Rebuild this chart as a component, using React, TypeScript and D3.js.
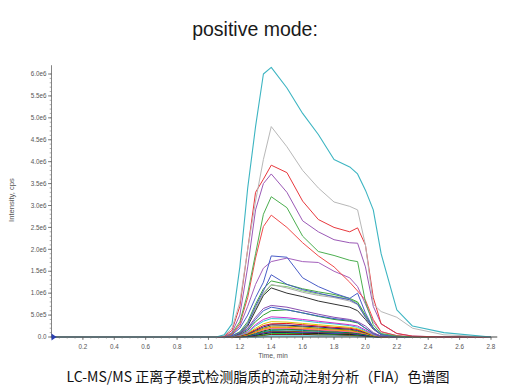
import React from "react";
import * as d3 from "d3";

// Retention time grid (min)
const times = [0, 1.0, 1.05, 1.1, 1.15, 1.2, 1.25, 1.3, 1.35, 1.4, 1.5, 1.6, 1.7, 1.8, 1.9, 1.95, 2.0, 2.05, 2.1, 2.2, 2.3, 2.5, 2.8];

// Intensities in millions of cps, one array per trace
const traceCyan = [0, 0, 0, 0.05, 0.3, 1.6, 3.4, 4.8, 6.0, 6.15, 5.68, 5.1, 4.62, 4.05, 3.88, 3.72, 3.35, 2.9, 1.9, 0.62, 0.25, 0.1, 0];
const traceGray = [0, 0, 0, 0.03, 0.2, 0.8, 2.0, 3.1, 4.05, 4.8, 4.34, 3.8, 3.4, 3.08, 2.98, 2.9, 2.1, 0.75, 0.58, 0.45, 0.2, 0.05, 0];
const traceRed1 = [0, 0, 0, 0.02, 0.15, 0.7, 2.0, 3.3, 3.6, 3.92, 3.75, 3.1, 2.68, 2.5, 2.4, 2.49, 2.1, 0.9, 0.3, 0.08, 0.02, 0, 0];
const tracePurple1 = [0, 0, 0, 0.01, 0.1, 0.5, 1.6, 2.9, 3.5, 3.72, 3.3, 2.65, 2.4, 2.22, 2.15, 2.14, 1.6, 0.7, 0.3, 0.08, 0.02, 0, 0];
const traceGreen1 = [0, 0, 0, 0.01, 0.08, 0.35, 1.0, 1.9, 2.8, 3.2, 2.95, 2.3, 1.95, 1.86, 1.75, 1.72, 0.8, 0.28, 0.08, 0.02, 0, 0, 0];
const traceRed2 = [0, 0, 0, 0.01, 0.06, 0.3, 0.9, 1.8, 2.52, 2.78, 2.5, 2.15, 1.85, 1.6, 1.25, 1.05, 0.84, 0.4, 0.12, 0.03, 0, 0, 0];
const traceBlue1 = [0, 0, 0, 0.01, 0.05, 0.2, 0.5, 0.9, 1.25, 1.85, 1.82, 1.35, 1.15, 1.0, 0.88, 1.0, 0.55, 0.2, 0.06, 0.01, 0, 0, 0];
const tracePurple2 = [0, 0, 0, 0.01, 0.05, 0.25, 0.7, 1.2, 1.57, 1.72, 1.8, 1.72, 1.7, 1.5, 1.35, 1.15, 0.75, 0.35, 0.12, 0.03, 0, 0, 0];
const traceBlue2 = [0, 0, 0, 0, 0.03, 0.1, 0.3, 0.7, 1.05, 1.42, 1.2, 1.08, 1.0, 0.92, 0.85, 0.75, 0.45, 0.2, 0.05, 0.01, 0, 0, 0];
const traceGreen2 = [0, 0, 0, 0, 0.03, 0.12, 0.35, 0.75, 1.1, 1.28, 1.2, 1.1, 1.03, 0.97, 0.88, 0.8, 0.5, 0.22, 0.06, 0.01, 0, 0, 0];
const traceLightGray = [0, 0, 0, 0, 0.02, 0.1, 0.3, 0.65, 1.0, 1.2, 1.12, 1.02, 0.95, 0.9, 0.82, 0.74, 0.45, 0.2, 0.05, 0, 0, 0, 0];
const traceBlack1 = [0, 0, 0, 0, 0.02, 0.08, 0.25, 0.6, 0.95, 1.12, 1.0, 0.92, 0.82, 0.75, 0.68, 0.6, 0.4, 0.18, 0.05, 0, 0, 0, 0];
const traceLightGreen = [0, 0, 0, 0, 0.02, 0.09, 0.28, 0.62, 0.98, 1.18, 1.15, 1.05, 0.98, 0.93, 0.86, 0.78, 0.48, 0.21, 0.05, 0, 0, 0, 0];
const tracePurple3 = [0, 0, 0, 0, 0.02, 0.08, 0.2, 0.45, 0.65, 0.72, 0.68, 0.6, 0.52, 0.45, 0.4, 0.35, 0.25, 0.1, 0.02, 0, 0, 0, 0];
const traceBlue3 = [0, 0, 0, 0, 0.02, 0.07, 0.18, 0.4, 0.6, 0.68, 0.62, 0.55, 0.48, 0.42, 0.38, 0.33, 0.2, 0.08, 0.02, 0, 0, 0, 0];
const traceGreen3 = [0, 0, 0, 0, 0.02, 0.06, 0.15, 0.35, 0.5, 0.6, 0.62, 0.55, 0.47, 0.4, 0.36, 0.32, 0.2, 0.08, 0.02, 0, 0, 0, 0];
const traceMagenta = [0, 0, 0, 0, 0.01, 0.05, 0.12, 0.28, 0.4, 0.46, 0.44, 0.4, 0.36, 0.32, 0.28, 0.25, 0.16, 0.06, 0.01, 0, 0, 0, 0];
const traceCyan2 = [0, 0, 0, 0, 0.01, 0.04, 0.1, 0.25, 0.36, 0.42, 0.41, 0.37, 0.33, 0.3, 0.26, 0.22, 0.14, 0.05, 0.01, 0, 0, 0, 0];
const traceYellow = [0, 0, 0, 0, 0.01, 0.04, 0.09, 0.2, 0.3, 0.35, 0.34, 0.31, 0.28, 0.25, 0.22, 0.19, 0.12, 0.04, 0.01, 0, 0, 0, 0];
const traceRed3 = [0, 0, 0, 0, 0.01, 0.03, 0.08, 0.17, 0.26, 0.3, 0.31, 0.28, 0.25, 0.22, 0.2, 0.17, 0.11, 0.04, 0.01, 0, 0, 0, 0];
const traceNavy = [0, 0, 0, 0, 0.01, 0.03, 0.07, 0.15, 0.23, 0.28, 0.27, 0.25, 0.23, 0.2, 0.18, 0.15, 0.1, 0.04, 0.01, 0, 0, 0, 0];
const traceOlive = [0, 0, 0, 0, 0.01, 0.03, 0.06, 0.13, 0.2, 0.25, 0.25, 0.23, 0.2, 0.18, 0.16, 0.13, 0.09, 0.03, 0.01, 0, 0, 0, 0];
const traceOrange = [0, 0, 0, 0, 0, 0.02, 0.05, 0.11, 0.18, 0.22, 0.22, 0.2, 0.18, 0.16, 0.14, 0.12, 0.08, 0.03, 0, 0, 0, 0, 0];
const tracePink = [0, 0, 0, 0, 0, 0.02, 0.05, 0.1, 0.16, 0.2, 0.2, 0.18, 0.16, 0.14, 0.12, 0.1, 0.07, 0.03, 0, 0, 0, 0, 0];
const traceDarkGreen = [0, 0, 0, 0, 0, 0.02, 0.04, 0.09, 0.14, 0.18, 0.18, 0.17, 0.15, 0.13, 0.11, 0.09, 0.06, 0.02, 0, 0, 0, 0, 0];
const traceTeal = [0, 0, 0, 0, 0, 0.01, 0.03, 0.07, 0.12, 0.15, 0.16, 0.15, 0.13, 0.11, 0.1, 0.08, 0.05, 0.02, 0, 0, 0, 0, 0];
const traceBrown = [0, 0, 0, 0, 0, 0.01, 0.03, 0.06, 0.1, 0.13, 0.13, 0.12, 0.11, 0.1, 0.08, 0.07, 0.05, 0.02, 0, 0, 0, 0, 0];
const traceBlue4 = [0, 0, 0, 0, 0, 0.01, 0.02, 0.05, 0.09, 0.12, 0.12, 0.11, 0.1, 0.09, 0.08, 0.06, 0.04, 0.01, 0, 0, 0, 0, 0];
const traceBlack2 = [0, 0, 0, 0, 0, 0.01, 0.02, 0.04, 0.07, 0.1, 0.1, 0.09, 0.08, 0.07, 0.06, 0.05, 0.03, 0.01, 0, 0, 0, 0, 0];
const traceLime = [0, 0, 0, 0, 0, 0.01, 0.02, 0.03, 0.05, 0.08, 0.08, 0.08, 0.07, 0.06, 0.05, 0.04, 0.03, 0.01, 0, 0, 0, 0, 0];
const traceMaroon = [0, 0, 0, 0, 0, 0, 0.01, 0.02, 0.04, 0.06, 0.06, 0.06, 0.05, 0.05, 0.04, 0.03, 0.02, 0.01, 0, 0, 0, 0, 0];
const traceCyanFlat = [0, 0, 0, 0, 0, 0, 0.01, 0.01, 0.02, 0.03, 0.03, 0.03, 0.03, 0.03, 0.03, 0.02, 0.02, 0.01, 0, 0, 0, 0, 0];

// Draw order: small first, large last
const traces = [
  traceCyanFlat, traceMaroon, traceLime, traceBlack2, traceBlue4, traceBrown, traceTeal, traceDarkGreen,
  tracePink, traceOrange, traceOlive, traceNavy, traceRed3, traceYellow, traceCyan2, traceMagenta,
  traceGreen3, traceBlue3, tracePurple3, traceLightGreen, traceBlack1, traceLightGray, traceGreen2, traceBlue2,
  tracePurple2, traceBlue1, traceRed2, traceGreen1, tracePurple1, traceRed1, traceGray, traceCyan,
];
const traceColors = [
  "#7fd6df", "#800000", "#32cd32", "#111111", "#1a1aff", "#8b4513", "#008b8b", "#006400",
  "#ff5fa8", "#ff8c00", "#8b8b00", "#1c1c80", "#e01818", "#e0c800", "#35c4d4", "#cc33cc",
  "#2f9e2f", "#4060c8", "#8a4fb0", "#86cf74", "#333333", "#aaaaaa", "#42a842", "#4a5cc4",
  "#a460bc", "#4a5ec8", "#f04a4a", "#4caf50", "#9b59b6", "#e8383d", "#b8b8b8", "#3db5c2",
];
const traceWidths = [
  2.2, 1, 1, 1, 1, 1, 1, 1,
  1, 1, 1, 1, 1, 1, 1, 1,
  1, 1, 1, 1, 1, 1, 1, 1,
  1, 1, 1, 1, 1, 1, 1, 1.1,
];

const xTicks = [0.2, 0.4, 0.6, 0.8, 1.0, 1.2, 1.4, 1.6, 1.8, 2.0, 2.2, 2.4, 2.6, 2.8];
const xTickLabels = ["0.2", "0.4", "0.6", "0.8", "1.0", "1.2", "1.4", "1.6", "1.8", "2.0", "2.2", "2.4", "2.6", "2.8"];
const yTicks = [0, 0.5, 1.0, 1.5, 2.0, 2.5, 3.0, 3.5, 4.0, 4.5, 5.0, 5.5, 6.0];
const yTickLabels = ["0.0", "5.0e5", "1.0e6", "1.5e6", "2.0e6", "2.5e6", "3.0e6", "3.5e6", "4.0e6", "4.5e6", "5.0e6", "5.5e6", "6.0e6"];

const W = 515;
const H = 388;
const FONT = "'Liberation Sans', Arial, sans-serif";

export default function App() {
  const x = d3.scaleLinear().domain([0, 2.8]).range([51.5, 491]);
  const y = d3.scaleLinear().domain([0, 6.0]).range([337, 74]);
  const line = d3
    .line<number>()
    .x((_, i) => x(times[i]))
    .y((v) => y(v));

  const yMinor = d3.range(0, 61).map((k) => k / 10);
  const xMinor = d3.range(0, 57).map((k) => k * 0.05);

  return (
    <svg
      width={W}
      height={H}
      style={{ position: "absolute", left: 0, top: 0, background: "#fff" }}
      fontFamily={FONT}
    >
      <rect x={0} y={0} width={W} height={H} fill="#fff" />
      <text x={255} y={36} textAnchor="middle" fontSize={19.5} fill="#1a1a1a">
        positive mode:
      </text>

      {/* traces */}
      <g fill="none" strokeLinejoin="round">
        {traces.map((tr, i) => (
          <path key={i} d={line(tr) || ""} stroke={traceColors[i]} strokeWidth={traceWidths[i]} />
        ))}
      </g>

      {/* y axis */}
      <line x1={x(0)} x2={x(0)} y1={y(6.2)} y2={y(0)} stroke="#666" strokeWidth={0.8} />
      {yMinor.map((v, i) => (
        <line key={"ym" + i} x1={x(0) - 1.8} x2={x(0)} y1={y(v)} y2={y(v)} stroke="#777" strokeWidth={0.6} />
      ))}
      {yTicks.map((v, i) => (
        <g key={"yt" + i}>
          <line x1={x(0) - 3.5} x2={x(0)} y1={y(v)} y2={y(v)} stroke="#555" strokeWidth={0.7} />
          <text x={x(0) - 5} y={y(v) + 2.2} textAnchor="end" fontSize={6.3} fill="#555">
            {yTickLabels[i]}
          </text>
        </g>
      ))}
      <text
        transform={`translate(14,${200}) rotate(-90)`}
        textAnchor="middle"
        fontSize={7.6}
        fill="#555"
      >
        Intensity, cps
      </text>

      {/* x axis */}
      <line x1={x(0)} x2={x(2.84)} y1={y(0)} y2={y(0)} stroke="#444" strokeWidth={1} />
      {xMinor.map((v, i) => (
        <line key={"xm" + i} x1={x(v)} x2={x(v)} y1={y(0)} y2={y(0) + 1.6} stroke="#777" strokeWidth={0.6} />
      ))}
      {xTicks.map((v, i) => (
        <g key={"xt" + i}>
          <line x1={x(v)} x2={x(v)} y1={y(0)} y2={y(0) + 3} stroke="#555" strokeWidth={0.7} />
          <text x={x(v)} y={349} textAnchor="middle" fontSize={6.3} fill="#555">
            {xTickLabels[i]}
          </text>
        </g>
      ))}
      <text x={273} y={358} textAnchor="middle" fontSize={6.8} fill="#555">
        Time, min
      </text>

      {/* origin marker */}
      <path
        d={`M${x(0)},${y(0) - 3.5} L${x(0) + 5},${y(0)} L${x(0)},${y(0) + 3.5} Z`}
        fill="#2a3fb0"
      />

      <text
        x={258}
        y={382}
        textAnchor="middle"
        fontSize={14}
        fill="#111"
        fontFamily="'Noto Sans CJK SC', 'Noto Sans', sans-serif"
      >
        LC-MS/MS 正离子模式检测脂质的流动注射分析（FIA）色谱图
      </text>
    </svg>
  );
}
